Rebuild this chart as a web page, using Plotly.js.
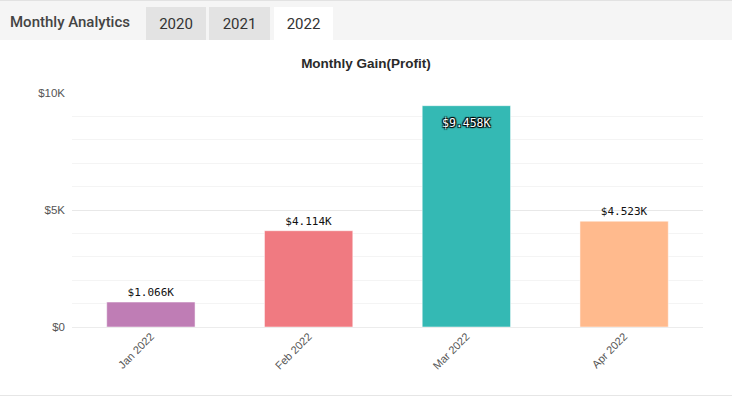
<!DOCTYPE html>
<html>
<head>
<meta charset="utf-8">
<script src="https://cdn.plot.ly/plotly-3.0.1.min.js"></script>
<style>
  html, body { margin:0; padding:0; width:732px; height:397px; background:#fff; overflow:hidden; }
  #bar { position:absolute; left:0; top:0; width:732px; height:40px; background:#f5f5f5; border-top:1px solid #e2e2e2; box-sizing:border-box; font-family:Roboto, "Open Sans", sans-serif; }
  #bar .title { position:absolute; left:10px; top:12px; font-size:15px; font-weight:500; color:#444; }
  #bar .tab { position:absolute; top:6px; height:34px; line-height:34px; text-align:center; font-size:15px; color:#333; background:#e3e3e3; }
  #bar .tab.active { background:#fff; }
  #chart { position:absolute; left:0; top:40px; width:732px; height:355px; }
  #bottom { position:absolute; left:0; top:395px; width:732px; height:1px; background:#e6e6e6; }
</style>
</head>
<body>
<div id="bar">
  <div class="title">Monthly Analytics</div>
  <div class="tab" style="left:146px;width:60px;">2020</div>
  <div class="tab" style="left:209px;width:61px;">2021</div>
  <div class="tab active" style="left:274px;width:59px;">2022</div>
</div>
<div id="chart"></div>
<div id="bottom"></div>
<script>
const months = ["Jan 2022", "Feb 2022", "Mar 2022", "Apr 2022"];
const gains = [1066, 4114, 9458, 4523];
const barColors = ["#bf7db5", "#f07a81", "#34b9b4", "#ffba8d"];
const yTickVals = [0, 5000, 10000];
const yTickText = ["$0", "$5K", "$10K"];

const fmt = v => "$" + (v / 1000).toFixed(3) + "K";
const isInside = v => v > 8000;

const trace = {
  type: "bar",
  x: months,
  y: gains,
  text: gains.map(v => isInside(v) ? "" : fmt(v)),
  textposition: "outside",
  textangle: 0,
  cliponaxis: false,
  marker: { color: barColors, line: { color: "rgba(255,255,255,0.5)", width: 1 } },
  outsidetextfont: { family: "DejaVu Sans Mono", size: 11, color: "#111" },
  hoverinfo: "none"
};

const insideAnnotations = [];
gains.forEach((v, i) => {
  if (isInside(v)) {
    insideAnnotations.push({
      x: months[i], y: v, xref: "x", yref: "y",
      text: fmt(v), showarrow: false, yanchor: "top", yshift: -8,
      font: { family: "DejaVu Sans Mono", size: 11.5, color: "#fff",
              shadow: "1px 1px 1px #000, -1px -1px 1px #000, 1px -1px 1px #000, -1px 1px 1px #000" }
    });
  }
});

const layout = {
  width: 732, height: 355,
  margin: { l: 72, r: 29, t: 53, b: 68 },
  paper_bgcolor: "#fff", plot_bgcolor: "#fff",
  showlegend: false,
  bargap: 0.44,
  title: { text: "<b>Monthly Gain(Profit)</b>", font: { family: "Liberation Sans, Arial", size: 13.5, color: "#2a2a2a" }, x: 0.5, xref: "container", y: 1 - 23/355, yanchor: "middle" },
  font: { family: "Liberation Sans, Arial", size: 11, color: "#666" },
  annotations: insideAnnotations,
  xaxis: {
    type: "category",
    tickangle: -45,
    showgrid: false, zeroline: false, showline: false,
    ticks: "", tickfont: { size: 11, color: "#555" }
  },
  yaxis: {
    range: [0, 10000],
    tickvals: yTickVals, ticktext: yTickText,
    gridcolor: "#e8e8e8", gridwidth: 1,
    zeroline: true, zerolinecolor: "#ececec", zerolinewidth: 1,
    showline: false, ticks: "", ticklabelstandoff: 6,
    tickfont: { size: 11.5, color: "#555" },
    minor: { dtick: 1000, showgrid: true, gridcolor: "#f4f4f4", gridwidth: 1 }
  }
};

Plotly.newPlot("chart", [trace], layout, { displayModeBar: false, staticPlot: true });
</script>
</body>
</html>
